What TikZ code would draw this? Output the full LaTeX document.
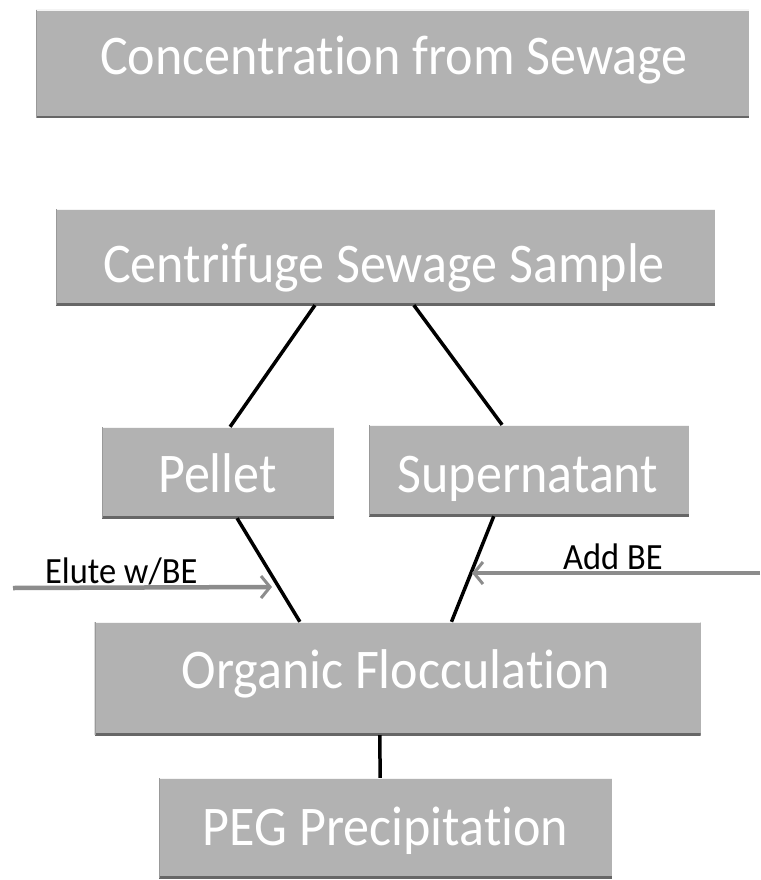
\documentclass[tikz,border=0pt]{standalone}
\usepackage{fontspec}
\setmainfont{Carlito}[RawFeature=-liga]
\newfontfamily\boxfont[FakeStretch=0.93,RawFeature=-liga]{Carlito}
\usetikzlibrary{calc,arrows.meta}
\definecolor{boxgray}{RGB}{178,178,178}
\definecolor{arrowgray}{RGB}{140,140,140}
\begin{document}
\begin{tikzpicture}[x=1pt,y=-1pt,
  box/.style={draw=none, fill=boxgray, inner sep=0pt,
    path picture={
      \draw[line width=4pt, black!60] (path picture bounding box.south west) -- (path picture bounding box.south east);
      \draw[line width=2pt, white!85!boxgray] (path picture bounding box.north west) -- (path picture bounding box.north east);
      \draw[line width=2pt, black!40] (path picture bounding box.south west) -- (path picture bounding box.north west);
    }},
  boxtext/.style={anchor=base, text=white, inner sep=0pt, font=\boxfont\fontsize{56}{60}\selectfont},
  lbl/.style={anchor=base west, text=black, inner sep=0pt, font=\boxfont\fontsize{37}{40}\selectfont},
  conn/.style={line width=3.5pt, black},
  side/.style={line width=4.5pt, arrowgray, -{Straight Barb[length=9pt,width=22pt,line width=3pt]}}
]
\useasboundingbox (0,0) rectangle (760,880);
\fill[white] (0,0) rectangle (760,880);

% boxes
\node[box, minimum width=713pt, minimum height=108pt] (n1) at (392.5,64) {};
\node[box, minimum width=659pt, minimum height=96pt] (n2) at (385.5,257) {};
\node[box, minimum width=232pt, minimum height=91pt] (pel) at (218,472.5) {};
\node[box, minimum width=320pt, minimum height=91pt] (sup) at (529,470.5) {};
\node[box, minimum width=606pt, minimum height=113pt] (org) at (397.5,678.5) {};
\node[box, minimum width=453pt, minimum height=100pt] (peg) at (385.5,828) {};

% texts
\node[boxtext] (t1) at (394,75) {Concentration from Sewage};
\node[boxtext] (t2) at (384,282) {Centrifuge Sewage Sample};
\node[boxtext] (t3) at (217.5,492) {Pellet};
\node[boxtext] (t4) at (528,492) {Supernatant};
\node[boxtext] (t5) at (396,688) {Organic Flocculation};
\node[boxtext] (t6) at (385.5,845) {PEG Precipitation};

% connectors
\draw[conn] ($(n2.south west)!0.393!(n2.south east)$) -- ($(pel.north west)!0.552!(pel.north east)$);
\draw[conn] ($(n2.south west)!0.543!(n2.south east)$) -- ($(sup.north west)!0.416!(sup.north east)$);
\draw[conn] ($(pel.south west)!0.582!(pel.south east)$) -- ($(org.north west)!0.339!(org.north east)$);
\draw[conn] ($(sup.south west)!0.390!(sup.south east)$) -- ($(org.north west)!0.589!(org.north east)$);
\draw[conn] ($(org.south west)!0.471!(org.south east)$) -- ($(peg.north west)!0.488!(peg.north east)$);

% side arrows
\coordinate (ls) at (13,588);
\coordinate (le) at (272,587);
\coordinate (rs) at (760,573);
\coordinate (re) at (472,573);
\draw[side] (ls) -- (le);
\draw[side] (rs) -- (re);
\node[lbl] (l1) at (45,583) {Elute w/BE};
\node[lbl] (l2) at (563,569) {Add BE};
\end{tikzpicture}
\end{document}
